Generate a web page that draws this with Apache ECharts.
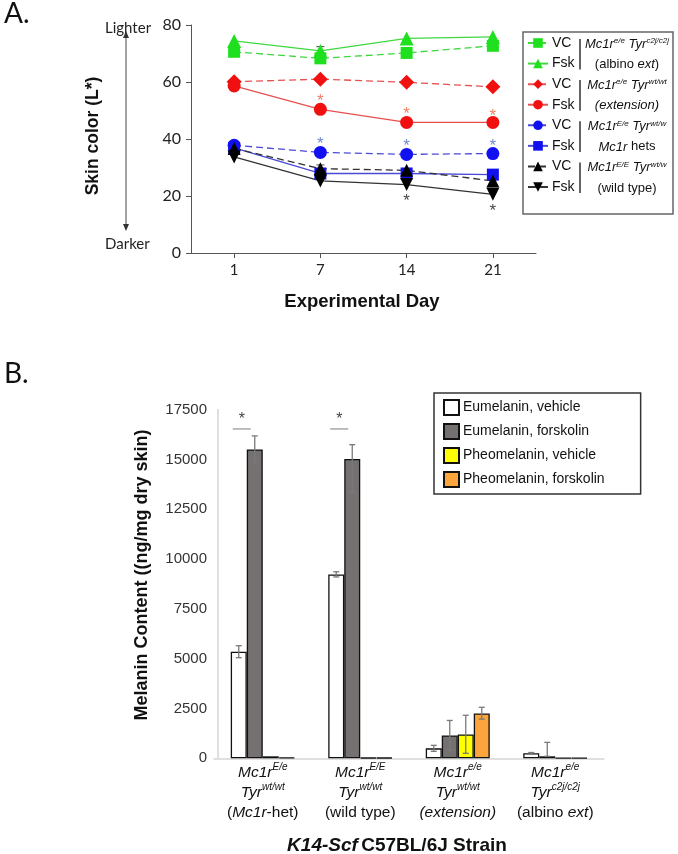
<!DOCTYPE html>
<html><head><meta charset="utf-8">
<script src="https://cdn.jsdelivr.net/npm/echarts@6/dist/echarts.min.js"></script>
<style>html,body{margin:0;padding:0;background:#fff}#c{width:678px;height:854px}</style>
</head><body><div id="c"></div>
<script>
// ---------- Panel A data ----------
const days = ['1', '7', '14', '21'];
const albinoVC  = [70.6, 68.3, 70.2, 72.7];
const albinoFsk = [74.4, 70.9, 75.3, 75.8];
const extVC     = [60.1, 61.0, 59.9, 58.3];
const extFsk    = [58.6, 50.4, 45.8, 45.8];
const hetVC     = [37.8, 35.3, 34.6, 34.9];
const hetFsk    = [36.9, 27.9, 27.9, 27.5];
const wtVC      = [36.7, 29.6, 29.0, 25.3];
const wtFsk     = [33.7, 25.3, 24.0, 20.6];
const albinoFskErr = [0, 1.5, 0, 0];
const wtVCErr      = [0, 1.3, 0, 0];
const extStars   = [null, 54.8, 50.1, 49.5];
const hetStars   = [null, 39.6, 38.8, 39.0];
const wtStars    = [null, null, 19.7, 15.9];
const yTicksA = [0, 20, 40, 60, 80];

// ---------- Panel B data ----------
const strains = ['Mc1rE/e TyrWT', 'Mc1rE/E TyrWT', 'Mc1re/e TyrWT', 'Mc1re/e Tyrc2j'];
const strainLabels = [
  '{i|Mc1r}{s|E/e}\n{i|Tyr}{s|wt/wt}\n{n|(}{i|Mc1r}{n|-het)}',
  '{i|Mc1r}{s|E/E}\n{i|Tyr}{s|wt/wt}\n{n|(wild type)}',
  '{i|Mc1r}{s|e/e}\n{i|Tyr}{s|wt/wt}\n{i|(extension)}',
  '{i|Mc1r}{s|e/e}\n{i|Tyr}{s|c2j/c2j}\n{n|(albino }{i|ext}{n|)}'
];
const eumVeh    = [5350, 9230, 500, 250];
const eumVehLo  = [5050, 9100, 350, 210];
const eumVehHi  = [5650, 9360, 650, 290];
const eumFsk    = [15500, 15020, 1150, 100];
const eumFskLo  = [14780, 13360, 400, 100];
const eumFskHi  = [16180, 15740, 1900, 800];
const pheoVeh   = [100, 30, 1200, 20];
const pheoVehLo = [null, null, 250, null];
const pheoVehHi = [null, null, 2160, null];
const pheoFsk   = [40, 30, 2250, 20];
const pheoFskLo = [null, null, 1970, null];
const pheoFskHi = [null, null, 2560, null];
const sigBars   = [[0, 16530], [1, 16530]];
const yTicksB = [0, 2500, 5000, 7500, 10000, 12500, 15000, 17500];

const chart = echarts.init(document.getElementById('c'), null, {renderer: 'canvas'});
const ARIAL = 'Liberation Sans, Arial, sans-serif';
const CAL = 'Lato, sans-serif';
const BW = 16;

function lineSeries(name, data, color, lineColor, symbol, size, dashed, rotate) {
  return {
    type: 'line', name: name, xAxisIndex: 0, yAxisIndex: 0, data: data,
    symbol: symbol, symbolSize: size, symbolRotate: rotate || 0,
    itemStyle: {color: color},
    lineStyle: {color: lineColor, width: 1.3, type: dashed ? [7, 4] : 'solid'},
    emphasis: {disabled: true}, z: 3
  };
}
function starSeries(data, color) {
  return {
    type: 'scatter', xAxisIndex: 0, yAxisIndex: 0, symbol: 'circle', symbolSize: 2,
    data: data.map(function (v, i) { return v == null ? null : [i, v]; }).filter(Boolean),
    itemStyle: {color: 'rgba(0,0,0,0)'},
    label: {show: true, position: 'inside', formatter: '*', color: color, fontSize: 17, fontFamily: ARIAL, offset: [0, 4]},
    emphasis: {disabled: true}, z: 4
  };
}
function errA(vals, errs) {
  return {
    type: 'custom', xAxisIndex: 0, yAxisIndex: 0, z: 2,
    data: vals.map(function (v, i) { return [i, v - errs[i], v + errs[i]]; }).filter(function (d, i) { return errs[i] > 0; }),
    renderItem: function (p, api) {
      const x = api.coord([api.value(0), 0])[0];
      const y1 = api.coord([0, api.value(1)])[1];
      const y2 = api.coord([0, api.value(2)])[1];
      const st = {stroke: '#444', lineWidth: 1};
      return {type: 'group', children: [
        {type: 'line', shape: {x1: x, y1: y1, x2: x, y2: y2}, style: st},
        {type: 'line', shape: {x1: x - 4, y1: y2, x2: x + 4, y2: y2}, style: st}
      ]};
    }
  };
}
function barSeries(name, data, color) {
  return {
    type: 'bar', name: name, xAxisIndex: 1, yAxisIndex: 1, data: data,
    barWidth: BW, barGap: '0%',
    itemStyle: {color: color, borderColor: '#111', borderWidth: 1.3},
    emphasis: {disabled: true}
  };
}
function errB(lo, hi, k) {
  const d = [];
  lo.forEach(function (v, i) { if (v != null && hi[i] != null) d.push([i, v, hi[i]]); });
  return {
    type: 'custom', xAxisIndex: 1, yAxisIndex: 1, z: 5, data: d,
    renderItem: function (p, api) {
      const x = api.coord([api.value(0), 0])[0] + (k - 1.5) * BW;
      const y1 = api.coord([api.value(0), api.value(1)])[1];
      const y2 = api.coord([api.value(0), api.value(2)])[1];
      const st = {stroke: '#7a7a7a', lineWidth: 1.3};
      return {type: 'group', children: [
        {type: 'line', shape: {x1: x, y1: y1, x2: x, y2: y2}, style: st},
        {type: 'line', shape: {x1: x - 3, y1: y1, x2: x + 3, y2: y1}, style: st},
        {type: 'line', shape: {x1: x - 3, y1: y2, x2: x + 3, y2: y2}, style: st}
      ]};
    }
  };
}
const sigSeries = {
  type: 'custom', xAxisIndex: 1, yAxisIndex: 1, z: 6, data: sigBars,
  renderItem: function (p, api) {
    const c = api.coord([api.value(0), api.value(1)]);
    const x = c[0] - 1.5 * BW + 3;
    return {type: 'group', children: [
      {type: 'line', shape: {x1: x - 9, y1: c[1], x2: x + 9, y2: c[1]}, style: {stroke: '#a6a6a6', lineWidth: 1.5}},
      {type: 'text', x: x, y: c[1] - 1, style: {text: '*', fill: '#444', font: '16px ' + ARIAL, align: 'center', verticalAlign: 'bottom'}}
    ]};
  }
};

const rowY = [44, 64.6, 85.1, 105.7, 126.3, 146.9, 167.4, 188];
const geno = [
  '{i|Mc1r}{s|e/e}{i| Tyr}{s|c2j/c2j}', '{n|(albino }{i|ext}{n|)}',
  '{i|Mc1r}{s|e/e}{i| Tyr}{s|wt/wt}', '{i|(extension)}',
  '{i|Mc1r}{s|E/e}{i| Tyr}{s|wt/w}', '{i|Mc1r}{n| hets}',
  '{i|Mc1r}{s|E/E}{i| Tyr}{s|wt/w}', '{n|(wild type)}'
];
const richG = {
  i: {fontFamily: ARIAL, fontStyle: 'italic', fontSize: 13, lineHeight: 14, fill: '#111', color: '#111'},
  n: {fontFamily: ARIAL, fontSize: 13, lineHeight: 14, fill: '#111', color: '#111'},
  s: {fontFamily: ARIAL, fontStyle: 'italic', fontSize: 8, lineHeight: 8, verticalAlign: 'top', fill: '#111', color: '#111'}
};
const graphics = [
  {type: 'text', left: 4, top: 0, style: {text: 'A.', font: '28px ' + CAL, fill: '#111'}},
  {type: 'text', left: 4, top: 360, style: {text: 'B.', font: '28px ' + CAL, fill: '#111'}},
  {type: 'text', x: 105, y: 28, style: {text: 'Lighter', font: '15px ' + CAL, fill: '#222', verticalAlign: 'middle'}},
  {type: 'text', x: 105, y: 244, style: {text: 'Darker', font: '15px ' + CAL, fill: '#222', verticalAlign: 'middle'}},
  {type: 'line', shape: {x1: 126, y1: 37, x2: 126, y2: 225}, style: {stroke: '#666', lineWidth: 1.2}},
  {type: 'polygon', shape: {points: [[126, 31], [123, 38], [129, 38]]}, style: {fill: '#333'}},
  {type: 'polygon', shape: {points: [[126, 231], [123, 224], [129, 224]]}, style: {fill: '#333'}},
  {type: 'text', x: 93, y: 136, rotation: Math.PI / 2, style: {text: 'Skin color (L*)', font: 'bold 17.5px ' + ARIAL, fill: '#111', align: 'center', verticalAlign: 'middle'}},
  {type: 'text', x: 362, y: 302, style: {text: 'Experimental Day', font: 'bold 18.5px ' + ARIAL, fill: '#111', align: 'center', verticalAlign: 'middle'}},
  {type: 'text', x: 142, y: 575, rotation: Math.PI / 2, style: {text: 'Melanin Content ((ng/mg dry skin)', font: 'bold 18px ' + ARIAL, fill: '#111', align: 'center', verticalAlign: 'middle'}},
  {type: 'text', x: 397, y: 846, style: {
    text: '{bi|K14-Scf} {b|C57BL/6J Strain}', align: 'center', verticalAlign: 'middle',
    rich: {bi: {font: 'italic bold 19px ' + ARIAL, fill: '#111'}, b: {font: 'bold 19px ' + ARIAL, fill: '#111'}}}},
  {type: 'rect', shape: {x: 523, y: 32, width: 150, height: 182}, style: {fill: 'none', stroke: '#666', lineWidth: 1.5}, z: -1}
];
for (let g = 0; g < 4; g++) {
  const y1 = rowY[2 * g], y2 = rowY[2 * g + 1];
  graphics.push({type: 'line', shape: {x1: 580, y1: y1 - 5, x2: 580, y2: y2 + 5}, style: {stroke: '#111', lineWidth: 1.3}});
  graphics.push({type: 'text', x: 627, y: y1, style: {text: geno[2 * g], rich: richG, align: 'center', verticalAlign: 'middle'}});
  graphics.push({type: 'text', x: 627, y: y2, style: {text: geno[2 * g + 1], rich: richG, align: 'center', verticalAlign: 'middle'}});
}

const GREEN = '#1ee01e', GREENL = '#3fd83f';
const RED = '#f01010', REDL = '#e85050';
const BLUE = '#1010f0', BLUEL = '#4a4ad8';
const BLK = '#000', BLKL = '#333';

const option = {
  animation: false,
  backgroundColor: '#fff',
  grid: [
    {left: 191, top: 25, width: 345, height: 228},
    {left: 214, top: 409.6, width: 390, height: 348.7}
  ],
  xAxis: [
    {type: 'category', gridIndex: 0, data: days, boundaryGap: true,
     axisLine: {lineStyle: {color: '#555', width: 1}},
     axisTick: {show: true, alignWithLabel: true, length: 5, lineStyle: {color: '#555'}},
     axisLabel: {fontFamily: CAL, fontSize: 15, color: '#222', margin: 10}},
    {type: 'category', gridIndex: 1, data: strains, boundaryGap: true,
     axisLine: {lineStyle: {color: '#d6d6d6', width: 1.5}},
     axisTick: {show: false},
     axisLabel: {margin: 4, interval: 0, formatter: function (v, i) { return strainLabels[i]; },
       rich: {
         i: {fontFamily: ARIAL, fontStyle: 'italic', fontSize: 15.5, lineHeight: 20, color: '#111'},
         n: {fontFamily: ARIAL, fontSize: 15.5, lineHeight: 20, color: '#111'},
         s: {fontFamily: ARIAL, fontStyle: 'italic', fontSize: 10, lineHeight: 10, verticalAlign: 'top', color: '#111'}
       }}}
  ],
  yAxis: [
    {type: 'value', gridIndex: 0, min: yTicksA[0], max: yTicksA[yTicksA.length - 1], interval: 20,
     axisLine: {show: true, lineStyle: {color: '#555', width: 1}},
     axisTick: {show: true, length: 5, lineStyle: {color: '#555'}},
     splitLine: {show: false},
     axisLabel: {fontFamily: CAL, fontSize: 16, color: '#222', margin: 10}},
    {type: 'value', gridIndex: 1, min: yTicksB[0], max: yTicksB[yTicksB.length - 1], interval: 2500, offset: -4,
     axisLine: {show: true, lineStyle: {color: '#d6d6d6', width: 1.5}},
     axisTick: {show: false},
     splitLine: {show: false},
     axisLabel: {fontFamily: ARIAL, fontSize: 15, color: '#333', margin: 11, formatter: function (v) { return String(v); }}}
  ],
  legend: [
    {orient: 'vertical', left: 527, top: 35, padding: 0, itemWidth: 20, itemHeight: 12, itemGap: 4.57,
     selectedMode: false,
     data: ['VC#1', 'Fsk#1', 'VC#2', 'Fsk#2', 'VC#3', 'Fsk#3', 'VC#4', 'Fsk#4'],
     formatter: function (n) { return n.split('#')[0]; },
     textStyle: {fontFamily: ARIAL, fontSize: 14, color: '#111', lineHeight: 16, padding: [0, 0, 0, -1]}},
    {orient: 'vertical', left: 434, top: 393, padding: [6, 36, 6, 9], itemWidth: 15, itemHeight: 15, itemGap: 7,
     selectedMode: false, icon: 'rect',
     backgroundColor: '#fff', borderColor: '#333', borderWidth: 1.5,
     data: ['Eumelanin, vehicle', 'Eumelanin, forskolin', 'Pheomelanin, vehicle', 'Pheomelanin, forskolin'],
     textStyle: {fontFamily: ARIAL, fontSize: 14, color: '#111', padding: [0, 0, 0, -1]}}
  ],
  graphic: graphics,
  series: [
    lineSeries('VC#1', albinoVC, GREEN, GREENL, 'rect', 12, true),
    lineSeries('Fsk#1', albinoFsk, GREEN, GREENL, 'triangle', 14, false),
    lineSeries('VC#2', extVC, RED, REDL, 'diamond', 15, true),
    lineSeries('Fsk#2', extFsk, RED, REDL, 'circle', 13, false),
    lineSeries('VC#3', hetVC, BLUE, BLUEL, 'circle', 13, true),
    lineSeries('Fsk#3', hetFsk, BLUE, BLUEL, 'rect', 12, false),
    lineSeries('VC#4', wtVC, BLK, BLKL, 'triangle', 13, true),
    lineSeries('Fsk#4', wtFsk, BLK, BLKL, 'triangle', 13, false, 180),
    errA(albinoFsk, albinoFskErr),
    errA(wtVC, wtVCErr),
    starSeries(extStars, '#e8603c'),
    starSeries(hetStars, '#4a6cc0'),
    starSeries(wtStars, '#111'),
    barSeries('Eumelanin, vehicle', eumVeh, '#ffffff'),
    barSeries('Eumelanin, forskolin', eumFsk, '#767171'),
    barSeries('Pheomelanin, vehicle', pheoVeh, '#ffff00'),
    barSeries('Pheomelanin, forskolin', pheoFsk, '#fba53c'),
    errB(eumVehLo, eumVehHi, 0),
    errB(eumFskLo, eumFskHi, 1),
    errB(pheoVehLo, pheoVehHi, 2),
    errB(pheoFskLo, pheoFskHi, 3),
    sigSeries
  ]
};
chart.setOption(option);
</script></body></html>
